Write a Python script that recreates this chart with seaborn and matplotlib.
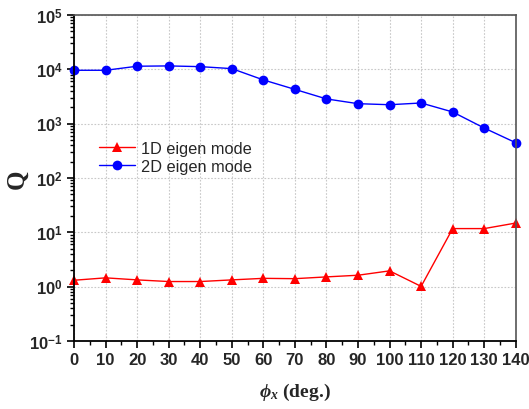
import numpy as np
import pandas as pd
import matplotlib
matplotlib.use("Agg")
import matplotlib.pyplot as plt
import matplotlib.ticker as mticker
import seaborn as sns

# data
phi_x = [0, 10, 20, 30, 40, 50, 60, 70, 80, 90, 100, 110, 120, 130, 140]
q_1d = [1.31, 1.45, 1.33, 1.24, 1.24, 1.33, 1.42, 1.40, 1.51, 1.62, 1.95, 1.01, 11.7, 11.7, 14.8]
q_2d = [9600, 9600, 11400, 11550, 11200, 10300, 6380, 4270, 2850, 2330, 2230, 2400, 1640, 830, 445]
modes = ["1D eigen mode", "2D eigen mode"]
x_ticks = list(range(0, 141, 10))
y_ticks = [1e-1, 1e0, 1e1, 1e2, 1e3, 1e4, 1e5]
y_tick_labels = ["$10^{-1}$", "$10^{0}$", "$10^{1}$", "$10^{2}$", "$10^{3}$", "$10^{4}$", "$10^{5}$"]

df = pd.DataFrame({
    "phi": phi_x * 2,
    "Q": q_1d + q_2d,
    "mode": [modes[0]] * len(phi_x) + [modes[1]] * len(phi_x),
})

sns.set_style("ticks")
plt.rcParams["font.family"] = ["Liberation Sans", "DejaVu Sans"]
plt.rcParams["mathtext.fontset"] = "custom"
plt.rcParams["mathtext.rm"] = "Liberation Sans:bold"
plt.rcParams["mathtext.bf"] = "Liberation Sans:bold"
plt.rcParams["mathtext.it"] = "Liberation Serif:italic:bold"

fig = plt.figure(figsize=(5.29, 4.10), dpi=100)
ax = fig.add_axes([0.140, 0.166, 0.835, 0.795])

ax = sns.lineplot(data=df, x="phi", y="Q", hue="mode", style="mode",
                  palette={modes[0]: "#ff0000", modes[1]: "#0000ff"},
                  markers={modes[0]: "^", modes[1]: "o"}, dashes=False,
                  markersize=7, markeredgewidth=0, linewidth=1, ax=ax)
for line in ax.lines:
    line.set_clip_on(False)

ax.set_yscale("log")
ax.set_xlim(0, 140)
ax.set_ylim(1e-1, 1e5)
ax.set_xticks(x_ticks)
ax.set_xticklabels([str(t) for t in x_ticks], fontweight="bold", fontsize=12)
ax.xaxis.set_minor_locator(mticker.MultipleLocator(5))
ax.set_yticks(y_ticks)
ax.set_yticklabels(y_tick_labels, fontsize=12)
ax.yaxis.set_minor_locator(mticker.LogLocator(base=10, subs=np.arange(2, 10)))
ax.yaxis.set_minor_formatter(mticker.NullFormatter())

ax.tick_params(which="major", direction="out", length=5, width=1.2, color="black", pad=3)
ax.tick_params(which="minor", direction="out", length=3, width=1, color="black")
ax.tick_params(top=False, right=False, which="both")

ax.grid(True, which="major", linestyle=(0, (1.5, 1.5)), color="#c8c8c8", linewidth=0.8)

for side in ["left", "bottom"]:
    ax.spines[side].set_color("black")
    ax.spines[side].set_linewidth(1.3)
for side in ["top", "right"]:
    ax.spines[side].set_color("#555555")
    ax.spines[side].set_linewidth(1.2)

ax.set_ylabel("Q", fontfamily="Liberation Serif", fontweight="bold", fontsize=18)
ax.yaxis.set_label_coords(-0.103, 0.5)
ax.set_xlabel(r"$\phi_x$ (deg.)", fontfamily="Liberation Serif", fontweight="bold", fontsize=14)
ax.xaxis.set_label_coords(0.5, -0.122)

ax.legend(title=None, frameon=False, loc="upper left", bbox_to_anchor=(0.03, 0.648),
          fontsize=11.8, handlelength=2.2, handletextpad=0.35, labelspacing=0.15,
          borderpad=0.2)

fig.savefig("out.png", dpi=100)
